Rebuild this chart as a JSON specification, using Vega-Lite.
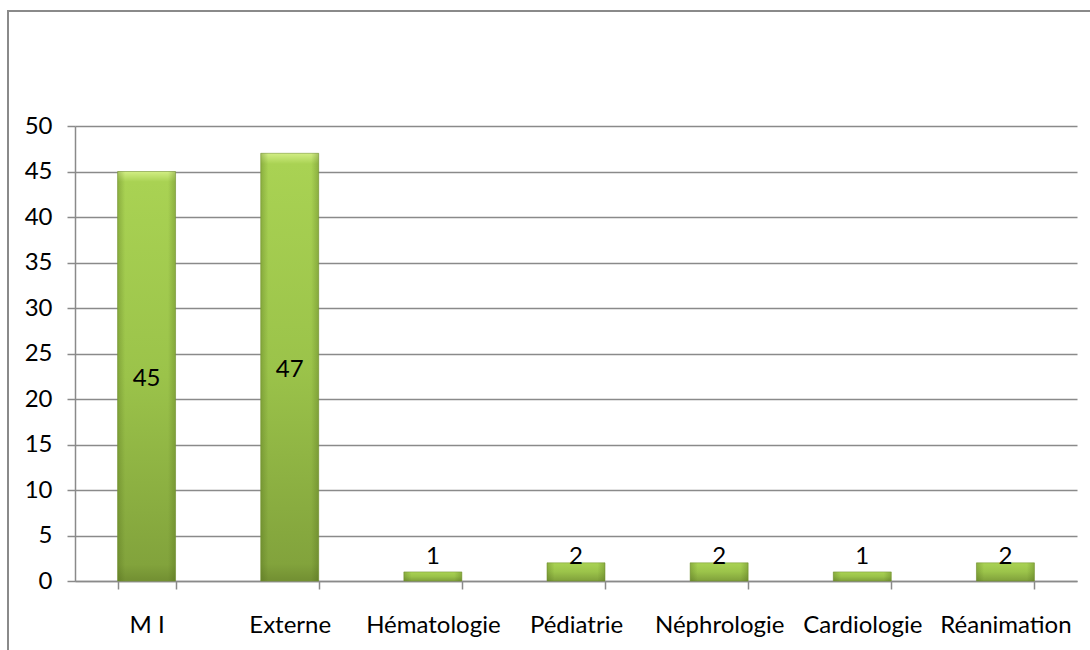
{
  "$schema": "https://vega.github.io/schema/vega-lite/v6.json",
  "autosize": {"type": "none"},
  "padding": {"left": 8, "top": 11, "right": 0, "bottom": 0},
  "width": 1090,
  "height": 645,
  "background": "#ffffff",
  "config": {
    "view": {"stroke": "#8a8a8a", "strokeWidth": 2},
    "font": "Lato",
    "axis": {
      "labelFont": "Lato",
      "labelFontSize": 24,
      "labelColor": "#000000",
      "domainColor": "#8a8a8a",
      "domainWidth": 1.5,
      "tickColor": "#8a8a8a",
      "tickWidth": 1.5,
      "tickSize": 8,
      "title": null
    }
  },
  "data": {
    "values": [
      {"service": "M I", "n": 45},
      {"service": "Externe", "n": 47},
      {"service": "Hématologie", "n": 1},
      {"service": "Pédiatrie", "n": 2},
      {"service": "Néphrologie", "n": 2},
      {"service": "Cardiologie", "n": 1},
      {"service": "Réanimation", "n": 2}
    ]
  },
  "encoding": {
    "x": {
      "field": "service",
      "type": "nominal",
      "sort": null,
      "scale": {"range": [67, 1069], "paddingInner": 0.595, "paddingOuter": 0.2975},
      "axis": {
        "offset": -75,
        "labelAngle": 0,
        "tickBand": "extent",
        "labelBaseline": "alphabetic",
        "labelPadding": 43,
        "grid": false
      }
    }
  },
  "layer": [
    {
      "mark": {
        "type": "bar",
        "stroke": "#7a9838",
        "strokeWidth": 0.6,
        "fill": {
          "gradient": "linear",
          "x1": 0, "y1": 0, "x2": 0, "y2": 1,
          "stops": [
            {"offset": 0, "color": "#d2ee84"},
            {"offset": 0.025, "color": "#a9d253"},
            {"offset": 0.5, "color": "#9bc34a"},
            {"offset": 0.96, "color": "#82a33c"},
            {"offset": 1, "color": "#728f32"}
          ]
        }
      },
      "encoding": {
        "y": {
          "field": "n",
          "type": "quantitative",
          "scale": {"domain": [0, 50], "range": [570, 115], "nice": false, "zero": true},
          "axis": {
            "offset": -67,
            "values": [0, 5, 10, 15, 20, 25, 30, 35, 40, 45, 50],
            "labelPadding": 15,
            "grid": true,
            "gridColor": "#8a8a8a",
            "gridWidth": 1.5
          }
        }
      }
    },
    {
      "mark": {
        "type": "bar",
        "fill": {
          "gradient": "linear",
          "x1": 0, "y1": 0, "x2": 1, "y2": 0,
          "stops": [
            {"offset": 0, "color": "rgba(70,95,20,0.3)"},
            {"offset": 0.13, "color": "rgba(70,95,20,0)"},
            {"offset": 0.87, "color": "rgba(70,95,20,0)"},
            {"offset": 1, "color": "rgba(70,95,20,0.3)"}
          ]
        }
      },
      "encoding": {
        "y": {"field": "n", "type": "quantitative"}
      }
    },
    {
      "transform": [
        {"calculate": "datum.n > 10 ? datum.n / 2 : 3", "as": "labelPos"}
      ],
      "mark": {
        "type": "text",
        "font": "Lato",
        "fontSize": 24,
        "color": "#000000",
        "baseline": "middle",
        "dy": 3
      },
      "encoding": {
        "y": {"field": "labelPos", "type": "quantitative"},
        "text": {"field": "n", "type": "quantitative"}
      }
    }
  ]
}
